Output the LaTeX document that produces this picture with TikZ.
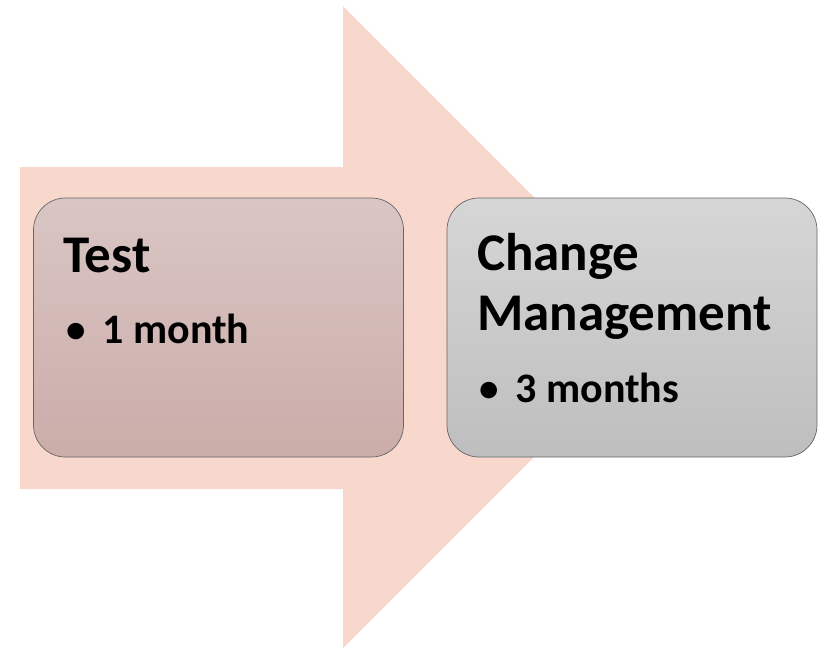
\documentclass[tikz,border=0pt]{standalone}
\usepackage{fontspec}
\setmainfont{Carlito}
\usetikzlibrary{positioning}
\definecolor{arrowfill}{RGB}{248,216,205}
\definecolor{testtop}{RGB}{217,198,196}
\definecolor{testbot}{RGB}{203,172,169}
\definecolor{changetop}{RGB}{214,214,214}
\definecolor{changebot}{RGB}{190,190,190}
\newcommand{\titlefont}{\fontsize{53}{60}\selectfont\bfseries}
\newcommand{\itemfont}{\fontsize{42}{50}\selectfont\bfseries}
\newcommand{\itemdot}{{\fontsize{39}{40}\selectfont\raisebox{1pt}{•}}\hspace{17pt}}

\begin{document}
\begin{tikzpicture}[x=1pt,y=-1pt,
    phase/.style={draw=black!60, line width=.7pt, rounded corners=32pt,
                  minimum width=370pt, minimum height=259pt, inner sep=0pt},
    label/.style={anchor=base west, inner sep=0pt, text=black}]

    \useasboundingbox (0,0) rectangle (825,649);

    % the big arrow behind both phases
    \fill[arrowfill] (20,167) -- (343,167) -- (343,6) -- (664,327)
        -- (343,648) -- (343,489) -- (20,489) -- cycle;

    % phases
    \node (test) at (218.5,327.5) [phase, top color=testtop, bottom color=testbot] {};
    \node (change) at (632,327.5) [phase, top color=changetop, bottom color=changebot] {};

    \node (testtitle) at (63,272) [label] {\titlefont Test};
    \node (testitem) at (66,343) [label] {\itemfont\itemdot 1 month};

    \node (changetitle) at (477,270) [label] {\titlefont Change};
    \node (changetitle2) at (477,330) [label] {\titlefont Management};
    \node (changeitem) at (479,402) [label] {\itemfont\itemdot 3 months};

\end{tikzpicture}
\end{document}
